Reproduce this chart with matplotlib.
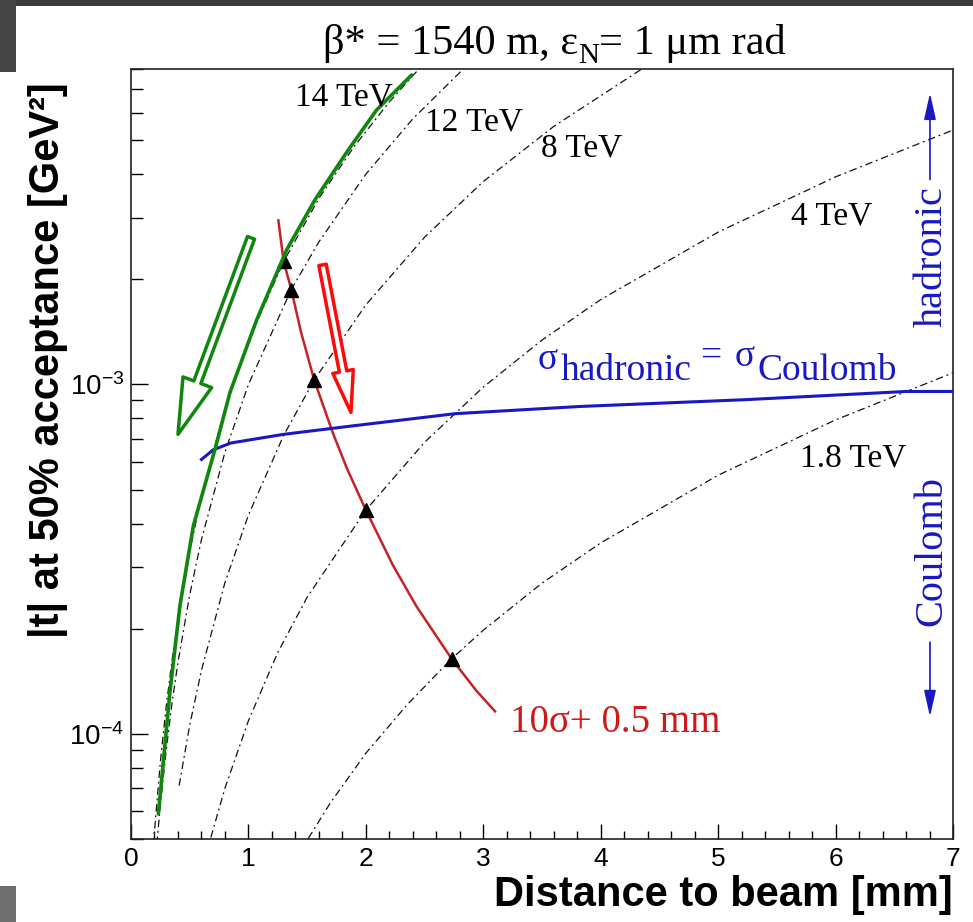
import matplotlib
matplotlib.use("Agg")
import matplotlib.pyplot as plt
from matplotlib.patches import FancyArrowPatch, Rectangle
from matplotlib.ticker import MultipleLocator, LogLocator, NullFormatter

# ---------------------------------------------------------------------------
# Data: |t| at 50% acceptance vs. distance to the beam (beta* = 1540 m)
# ---------------------------------------------------------------------------
energy_labels = ["14 TeV", "12 TeV", "8 TeV", "4 TeV", "1.8 TeV"]

d_14 = [0.19, 0.25, 0.30, 0.35, 0.40, 0.50, 0.60, 0.80, 1.00, 1.30, 1.60, 1.90, 2.20, 2.45]
t_14 = [4.8e-5, 8.32e-5, 1.20e-4, 1.63e-4, 2.13e-4, 3.33e-4, 4.79e-4, 8.52e-4, 1.33e-3,
        2.25e-3, 3.41e-3, 4.80e-3, 6.44e-3, 7.99e-3]

d_12 = [0.22, 0.25, 0.30, 0.35, 0.40, 0.50, 0.60, 0.80, 1.00, 1.365, 1.60, 2.00, 2.40, 2.83]
t_12 = [4.84e-5, 6.25e-5, 9.0e-5, 1.23e-4, 1.60e-4, 2.50e-4, 3.60e-4, 6.40e-4, 1.0e-3,
        1.87e-3, 2.56e-3, 4.0e-3, 5.76e-3, 8.0e-3]

d_8 = [0.41, 0.50, 0.60, 0.80, 1.00, 1.30, 1.56, 2.00, 2.50, 3.00, 3.60, 4.35]
t_8 = [7.11e-5, 1.06e-4, 1.52e-4, 2.71e-4, 4.23e-4, 7.15e-4, 1.03e-3, 1.69e-3, 2.64e-3,
       3.81e-3, 5.48e-3, 8.0e-3]

d_4 = [0.68, 0.80, 1.00, 1.25, 1.50, 2.00, 2.50, 3.00, 3.50, 4.00, 5.00, 6.00, 7.00]
t_4 = [5.05e-5, 6.99e-5, 1.09e-4, 1.71e-4, 2.46e-4, 4.37e-4, 6.83e-4, 9.83e-4, 1.34e-3,
       1.75e-3, 2.73e-3, 3.93e-3, 5.35e-3]

d_18 = [1.51, 1.70, 2.00, 2.35, 2.73, 3.00, 3.50, 4.00, 5.00, 6.00, 7.00]
t_18 = [5.02e-5, 6.36e-5, 8.8e-5, 1.21e-4, 1.64e-4, 1.98e-4, 2.70e-4, 3.52e-4, 5.50e-4,
        7.92e-4, 1.08e-3]

# detector at 10 sigma + 0.5 mm
d_10sig = [1.255, 1.30, 1.365, 1.446, 1.56, 1.72, 1.84, 2.00, 2.23, 2.43, 2.73, 2.94, 3.10]
t_10sig = [2.95e-3, 2.25e-3, 1.87e-3, 1.42e-3, 1.03e-3, 7.25e-4, 5.74e-4, 4.37e-4, 3.04e-4,
           2.32e-4, 1.64e-4, 1.33e-4, 1.16e-4]

# crossing points of the 10 sigma line with each energy curve
d_cross = [1.30, 1.365, 1.56, 2.00, 2.73]
t_cross = [2.25e-3, 1.87e-3, 1.03e-3, 4.37e-4, 1.64e-4]

# sigma_hadronic = sigma_Coulomb boundary
d_hc = [0.60, 0.70, 0.85, 1.30, 1.87, 2.76, 3.82, 5.24, 6.60, 7.00]
t_hc = [6.1e-4, 6.5e-4, 6.8e-4, 7.2e-4, 7.6e-4, 8.25e-4, 8.65e-4, 9.05e-4, 9.55e-4, 9.55e-4]

# highlighted 14 TeV curve
d_green = [0.233, 0.332, 0.417, 0.531, 0.715, 0.843, 1.07, 1.326, 1.567, 1.85, 2.09, 2.39]
t_green = [5.9e-5, 1.32e-4, 2.33e-4, 3.94e-4, 6.52e-4, 9.49e-4, 1.53e-3, 2.43e-3, 3.38e-3,
           4.69e-3, 6.1e-3, 7.69e-3]

x_ticks = [0, 1, 2, 3, 4, 5, 6, 7]

# ---------------------------------------------------------------------------
W, H = 973, 922
plt.rcParams["font.family"] = ["Liberation Sans", "DejaVu Sans"]
plt.rcParams["mathtext.fontset"] = "custom"
plt.rcParams["mathtext.rm"] = "Liberation Sans"
plt.rcParams["mathtext.it"] = "Liberation Sans:italic"
plt.rcParams["mathtext.bf"] = "Liberation Sans:bold"
SERIF = ["Liberation Serif", "DejaVu Serif"]

BLUE = "#1818c4"
GREEN = "#0f870f"
DARKRED = "#c42226"
RED = "#ff0a0a"

fig = plt.figure(figsize=(W / 100, H / 100), dpi=100)
fig.patch.set_facecolor("white")

# slide background showing around the canvas
for (x0, y0, w, h, c) in [(0, H - 6, W, 6, "#3b3b3b"),
                          (0, H - 72, 16, 72, "#454545"),
                          (0, 0, 16, 36, "#6e6e6e")]:
    fig.add_artist(Rectangle((x0 / W, y0 / H), w / W, h / H, transform=fig.transFigure,
                             facecolor=c, edgecolor="none", zorder=0))

ax = fig.add_axes([131 / W, (H - 839) / H, 822 / W, 770 / H])
ax.set_yscale("log")
ax.set_xlim(0, 7)
ax.set_ylim(5e-5, 8e-3)

dashdot = (0, (6, 3, 1.5, 3))
for d, t in [(d_14, t_14), (d_12, t_12), (d_8, t_8), (d_4, t_4), (d_18, t_18)]:
    ax.plot(d, t, color="#111111", lw=0.9, ls=dashdot, zorder=2)

ax.plot(d_10sig, t_10sig, color=DARKRED, lw=1.8, zorder=3)
ax.plot(d_hc, t_hc, color=BLUE, lw=2.2, zorder=3)
ax.plot(d_cross, t_cross, ls="none", marker="^", ms=10, color="black", zorder=4)
ax.plot(d_green, t_green, color=GREEN, lw=2.6, solid_capstyle="round", zorder=5)

# hollow block arrows
ax.add_patch(FancyArrowPatch((1.022, 2.63e-3), (0.400, 7.2e-4),
                             arrowstyle="simple,head_length=40,head_width=22,tail_width=5.4",
                             mutation_scale=1, fc="white", ec=GREEN, lw=2.5,
                             shrinkA=0, shrinkB=0, zorder=6))
ax.add_patch(FancyArrowPatch((1.631, 2.2e-3), (1.873, 8.32e-4),
                             arrowstyle="simple,head_length=30,head_width=15,tail_width=5.4",
                             mutation_scale=1, fc="white", ec=RED, lw=2.5,
                             shrinkA=0, shrinkB=0, zorder=6))

# axis styling
for s in ax.spines.values():
    s.set_linewidth(1.2)
    s.set_color("#222222")
ax.xaxis.set_major_locator(MultipleLocator(1))
ax.xaxis.set_minor_locator(MultipleLocator(0.2))
ax.set_xticks(x_ticks)
ax.set_xticklabels([str(v) for v in x_ticks])
ax.yaxis.set_major_locator(LogLocator(base=10))
ax.yaxis.set_minor_locator(LogLocator(base=10, subs=range(2, 10)))
ax.yaxis.set_minor_formatter(NullFormatter())
ax.tick_params(axis="x", which="major", direction="in", length=11, width=1, labelsize=19, pad=6,
               top=False)
ax.tick_params(axis="x", which="minor", direction="in", length=6, width=1, top=False)
ax.tick_params(axis="y", which="major", direction="in", length=12, width=1, labelsize=20, pad=5,
               right=False)
ax.tick_params(axis="y", which="minor", direction="in", length=8.5, width=1, right=False)

ax.set_xlabel("Distance to beam [mm]", fontsize=30, fontweight="bold", loc="right")
ax.xaxis.set_label_coords(1.0, -0.047)
ax.set_ylabel("|t| at 50% acceptance [GeV²]", fontsize=30, fontweight="bold")
ax.yaxis.set_label_coords(-0.101, 0.622)
ax.yaxis.label.set_verticalalignment("center")

# energy labels
label_pos = [(1.397, 6.31e-3), (2.504, 5.35e-3), (3.49, 4.48e-3), (5.62, 2.87e-3), (5.70, 5.83e-4)]
for txt, (x, y) in zip(energy_labels, label_pos):
    ax.text(x, y, txt, family=SERIF, fontsize=24, color="black", ha="left", va="baseline", zorder=7)

ax.text(3.227, 1.01e-4, "10σ+ 0.5 mm", family=SERIF, fontsize=28, color="#d01818",
        ha="left", va="baseline", zorder=7)

for s, x, y in [("σ", 3.466, 1.104e-3), ("hadronic", 3.662, 1.027e-3), ("=", 4.845, 1.133e-3),
                ("σ", 5.144, 1.133e-3), ("Coulomb", 5.331, 1.027e-3)]:
    ax.text(x, y, s, family=SERIF, fontsize=27, color=BLUE, ha="left", va="baseline", zorder=7)

ax.text(6.821, 2.33e-3, "hadronic", family=SERIF, fontsize=29, color=BLUE, rotation=90,
        ha="center", va="center", zorder=7)
ax.text(6.821, 3.34e-4, "Coulomb", family=SERIF, fontsize=29, color=BLUE, rotation=90,
        ha="center", va="center", zorder=7)
arrow_kw = dict(arrowstyle="-|>,head_length=0.8,head_width=0.18", color=BLUE, lw=1.2,
                mutation_scale=20, shrinkA=0, shrinkB=0)
ax.annotate("", xy=(6.804, 6.82e-3), xytext=(6.804, 3.86e-3), arrowprops=arrow_kw, zorder=7)
ax.annotate("", xy=(6.804, 1.12e-4), xytext=(6.804, 1.83e-4), arrowprops=arrow_kw, zorder=7)

# title: beta* = 1540 m, eps_N = 1 um rad
renderer = fig.canvas.get_renderer()
x_px = 323
for s, size, drop in [("β* = 1540 m, ε", 30.5, 0), ("N", 21, 9), ("= 1 μm rad", 30.5, 0)]:
    t = fig.text(x_px / W, 1 - (54 + drop) / H, s, family=SERIF, fontsize=size,
                 ha="left", va="baseline")
    x_px = t.get_window_extent(renderer).x1

fig.savefig("out.png", dpi=100)
